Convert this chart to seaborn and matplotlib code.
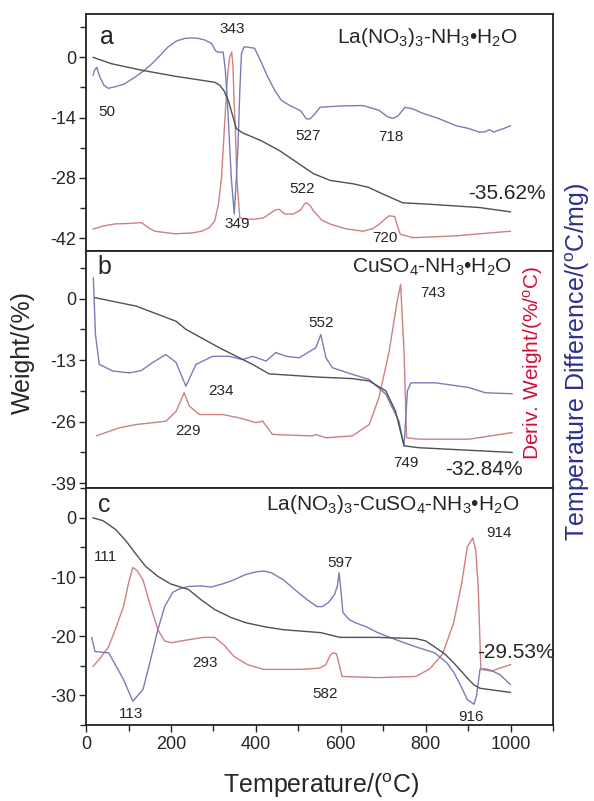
import matplotlib
matplotlib.use("Agg")
import matplotlib.pyplot as plt
from matplotlib.ticker import MultipleLocator
import seaborn as sns

# panel a: La(NO3)3-NH3.H2O
a_tg_t = [16, 60, 131, 210, 303, 315, 325, 335, 345, 354, 370, 413, 456, 480, 535, 575, 630, 665, 700, 746, 804, 927, 1000]
a_tg_y = [0, -1.5, -3.0, -4.4, -5.8, -6.5, -7.8, -10, -13.5, -16.6, -17.6, -19.4, -21.7, -23.3, -27, -28.6, -29.4, -30.2, -31.8, -33.8, -34.1, -34.9, -35.9]
a_dta_t = [16, 20, 25, 32, 42, 52, 70, 90, 115, 135, 155, 175, 193, 213, 233, 250, 264, 280, 296, 305, 311, 323, 328, 334,
           342, 349, 354, 358, 362, 366, 372, 378, 397, 412, 428, 445, 460, 480, 505, 519, 528, 540, 551, 600, 652, 690,
           710, 723, 735, 751, 770, 793, 830, 872, 900, 927, 940, 950, 960, 970, 985, 1000]
a_dta_y = [-4.2, -3, -2.3, -4.5, -6.5, -7.2, -6.8, -6.2, -4.6, -3.2, -1.5, 0.5, 2.4, 3.8, 4.4, 4.5, 4.4, 4, 3.2, 1.5, 1.2, 1.2, -3, -12.4,
           -28, -36.4, -28, -20, -8, 0.9, 2.4, 2.4, 2.1, -1, -4.6, -7.8, -10, -11.2, -12.4, -14.3, -14.3, -13, -11.6, -11.3, -11.2, -12.3,
           -13.8, -14.2, -13.6, -11.6, -12, -13, -14.2, -15.9, -16.5, -17.4, -17.3, -16.8, -17.4, -17, -16.5, -15.9]
a_dtg_t = [16, 40, 68, 100, 131, 145, 162, 209, 250, 272, 290, 303, 312, 319, 326, 333, 338, 343, 346, 348, 352, 355, 362,
           380, 397, 418, 445, 455, 468, 488, 505, 515, 520, 528, 536, 555, 574, 610, 652, 675, 690, 705, 715, 727, 733, 740,
           770, 866, 1000]
a_dtg_y = [-39.9, -39.2, -38.7, -38.6, -38.4, -39.5, -40.4, -41, -40.8, -40.4, -39.6, -38, -34, -27.9, -16, -4.6, 0, 1.2, -2, -8.4, -18, -27.9, -37.3,
           -37.6, -37.6, -37.3, -35.5, -35.3, -36.4, -36.4, -35.5, -34, -33.8, -34.5, -35.7, -37.8, -38.7, -39.8, -40.4, -39.8, -38.8, -37.5, -36.8, -37, -39, -41.1,
           -41.9, -41.5, -40.4]

# panel b: CuSO4-NH3.H2O
b_tg_t = [20, 118, 212, 235, 314, 392, 431, 549, 627, 667, 706, 729, 749, 784, 1004]
b_tg_y = [0.2, -1.6, -4.8, -6.5, -10.4, -13.9, -15.9, -16.6, -16.9, -17.4, -19.5, -23.8, -31.1, -31.5, -32.5]
b_dta_t = [17, 22, 31, 63, 102, 130, 157, 188, 212, 235, 259, 298, 337, 369, 392, 424, 447, 471, 502, 541, 553, 565,
           580, 627, 667, 706, 737, 749, 757, 765, 824, 902, 941, 1004]
b_dta_y = [4.4, -7.6, -13.9, -15.3, -15.7, -15.2, -13.5, -11.8, -13.5, -18.5, -13.9, -12.2, -12.2, -12.9, -12.2, -13.2, -11.4, -12.2, -12.5, -10.4, -7.6, -12.5,
           -14.6, -16, -17.1, -20.2, -25.9, -31.1, -19.5, -17.8, -17.8, -18.8, -19.9, -20.1]
b_dtg_t = [24, 78, 118, 188, 212, 231, 243, 267, 322, 361, 400, 416, 439, 533, 541, 565, 627, 667, 690, 714, 733, 741,
           749, 755, 784, 902, 1004]
b_dtg_y = [-29, -27.3, -26.6, -25.9, -23.8, -19.9, -22.7, -24.5, -24.5, -25.2, -26.2, -25.9, -28.7, -29, -28.7, -29.4, -29, -26.6, -20.9, -11.1, -0.5, 3,
           -11.1, -29.4, -29.7, -29.7, -28.3]

# panel c: La(NO3)3-CuSO4-NH3.H2O
c_tg_t = [16, 40, 70, 95, 115, 140, 169, 200, 241, 270, 303, 340, 375, 420, 464, 553, 598, 687, 777, 800, 821, 845, 866,
          885, 901, 915, 928, 1000]
c_tg_y = [0, -0.5, -2, -4, -5.9, -8.2, -9.9, -11.2, -12.1, -13.8, -15.5, -16.8, -17.7, -18.4, -18.9, -19.4, -20.2, -20.2, -20.4, -20.8, -21.8, -23, -24.5,
          -26, -27.3, -28.3, -28.8, -29.5]
c_dta_t = [13, 21, 53, 88, 110, 134, 150, 169, 185, 204, 220, 241, 270, 294, 320, 348, 375, 402, 420, 437, 465, 491, 520,
           544, 556, 571, 585, 592, 596, 600, 605, 620, 633, 660, 687, 730, 777, 821, 850, 866, 885, 898, 914, 920, 928,
           940, 955, 975, 1000]
c_dta_y = [-20.2, -22.6, -22.8, -27.3, -31, -29, -24.5, -18.9, -15, -12.6, -12, -11.6, -11.5, -11.7, -11.2, -10.5, -9.6, -9.1, -9.0, -9.3, -10.5, -12.1, -13.8,
           -15, -15, -14.3, -13, -11.5, -9.3, -12, -16, -17.2, -17.7, -18.4, -19.4, -20.6, -21.8, -22.8, -24.5, -26.1, -28.7, -30.7, -31.5, -30, -25.6,
           -25.5, -25.8, -26.5, -28.2]
c_dtg_t = [16, 30, 53, 70, 88, 100, 110, 120, 134, 150, 169, 185, 200, 241, 276, 303, 325, 348, 380, 418, 509, 550, 565,
           575, 582, 590, 597, 603, 687, 777, 810, 840, 866, 885, 898, 911, 918, 924, 930, 955, 975, 1000]
c_dtg_y = [-25.1, -24, -21.8, -18.6, -15, -11, -8.4, -8.9, -10.5, -14.5, -18.9, -20.8, -21.1, -20.6, -20.2, -20.2, -21.5, -23.4, -24.8, -25.6, -25.6, -25.4, -24.8,
           -23.2, -22.8, -23, -25, -26.8, -27, -26.8, -25.5, -23, -17.7, -11, -4.9, -3.4, -5.5, -12, -25.6, -25.9, -25.4, -24.8]

titles = [r'La(NO$_3$)$_3$-NH$_3$•H$_2$O', r'CuSO$_4$-NH$_3$•H$_2$O', r'La(NO$_3$)$_3$-CuSO$_4$-NH$_3$•H$_2$O']
letters = ['a', 'b', 'c']
title_pos = [(804, 4.7), (816, 6.6), (723, 2.2)]
letter_pos = [(48, 4.7), (43, 6.6), (43, 2.2)]
peak_labels = [
    [('343', 343, 6.5), ('50', 48, -12.8), ('527', 522, -18.2), ('718', 718, -18.4), ('522', 508, -30.6),
     ('349', 357, -38.7), ('720', 705, -42), ('-35.62%', 991, -31.7)],
    [('743', 816, 1.2), ('552', 553, -5.1), ('234', 318, -19.5), ('229', 239, -28), ('749', 753, -34.7),
     ('-32.84%', 937, -36.1)],
    [('914', 973, -2.5), ('111', 45, -6.6), ('597', 598, -7.6), ('293', 281, -24.5), ('582', 562, -29.7),
     ('113', 105, -33.2), ('916', 906, -33.7), ('-29.53%', 1013, -22.8)],
]
ylims = [(-45, 10), (-40, 10), (-35, 5)]
yticks = [[-42, -28, -14, 0], [-39, -26, -13, 0], [-30, -20, -10, 0]]
yminor = [7, 6.5, 5]

sns.set_style("ticks")
plt.rcParams['font.family'] = ['Liberation Sans', 'DejaVu Sans']
plt.rcParams['mathtext.fontset'] = 'custom'
plt.rcParams['mathtext.rm'] = 'Liberation Sans'
plt.rcParams['mathtext.it'] = 'Liberation Sans:italic'
plt.rcParams['axes.unicode_minus'] = False

c_tg, c_dtg, c_dta = '#4a5252', '#cf8080', '#7b7bb8'

fig = plt.figure(figsize=(5.94, 8.01), dpi=100)
left, width, h = 0.145, 0.786, 0.2956
bottoms = [0.6866, 0.3908, 0.0949]

curves = [
    (a_tg_t, a_tg_y, a_dta_t, a_dta_y, a_dtg_t, a_dtg_y),
    (b_tg_t, b_tg_y, b_dta_t, b_dta_y, b_dtg_t, b_dtg_y),
    (c_tg_t, c_tg_y, c_dta_t, c_dta_y, c_dtg_t, c_dtg_y),
]

for i in range(3):
    ax = fig.add_axes([left, bottoms[i], width, h])
    tg_t, tg_y, dta_t, dta_y, dtg_t, dtg_y = curves[i]
    sns.lineplot(x=dtg_t, y=dtg_y, ax=ax, color=c_dtg, lw=1.0, estimator=None, sort=False)
    sns.lineplot(x=dta_t, y=dta_y, ax=ax, color=c_dta, lw=1.0, estimator=None, sort=False)
    sns.lineplot(x=tg_t, y=tg_y, ax=ax, color=c_tg, lw=1.0, estimator=None, sort=False)

    ax.set_xlim(0, 1100)
    ax.set_ylim(*ylims[i])
    ax.set_yticks(yticks[i])
    ax.yaxis.set_minor_locator(MultipleLocator(yminor[i]))
    ax.tick_params(axis='y', which='major', length=5, width=1, labelsize=13, pad=2, direction='out')
    ax.tick_params(axis='y', which='minor', length=4, width=1, direction='out')
    ax.tick_params(right=False, top=False)
    for s in ax.spines.values():
        s.set_visible(True)
        s.set_linewidth(1.3)
        s.set_color('#222222')
    if i < 2:
        ax.set_xticks([])
    else:
        ax.set_xticks([0, 200, 400, 600, 800, 1000])
        ax.xaxis.set_minor_locator(MultipleLocator(100))
        ax.tick_params(axis='x', which='major', length=5, width=1, labelsize=13, pad=3)
        ax.tick_params(axis='x', which='minor', length=4, width=1)
    ax.set_xlabel('')
    ax.set_ylabel('')

    ax.text(*letter_pos[i], letters[i], fontsize=18, ha='center', va='center')
    ax.text(*title_pos[i], titles[i], fontsize=15, ha='center', va='center')
    for txt, x, y in peak_labels[i]:
        fs = 15 if '%' in txt else 11
        ax.text(x, y, txt, fontsize=fs, ha='center', va='center')

fig.text(0.039, 0.56, 'Weight/(%)', rotation=90, fontsize=18, ha='center', va='center')
fig.text(0.54, 0.019, r'Temperature/($^{\rm o}$C)', fontsize=18, ha='center', va='center')
fig.text(0.897, 0.547, r'Deriv. Weight/(%/$^{\rm o}$C)', rotation=90, fontsize=15,
         color='#d0103a', ha='center', va='center')
fig.text(0.973, 0.548, r'Temperature Difference/($^{\rm o}$C/mg)', rotation=90, fontsize=18,
         color='#2e2e8c', ha='center', va='center')

fig.savefig('out.png', dpi=100)
plt.close(fig)
